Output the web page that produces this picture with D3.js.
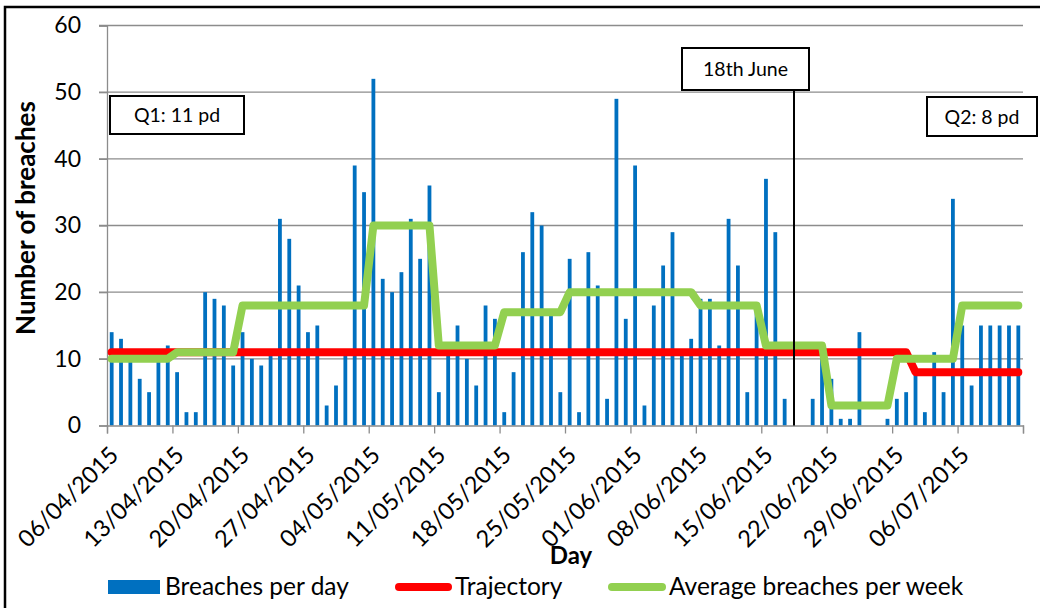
<!DOCTYPE html>
<html>
<head>
<meta charset="utf-8">
<script src="https://cdn.jsdelivr.net/npm/d3@7"></script>
<style>
  body { margin: 0; background: #fff; }
  svg text { font-family: "Lato", "Open Sans", sans-serif; fill: #000; }
</style>
</head>
<body>
<svg id="chart" width="1040" height="608"></svg>
<script>
// daily breaches from 06/04/2015
const firstDay = "06/04/2015";
const breaches = [
  14, 13, 10, 7, 5, 10, 12, 8, 2, 2, 20, 19, 18, 9, 14, 10,
  9, 11, 31, 28, 21, 14, 15, 3, 6, 11, 39, 35, 52, 22, 20, 23,
  31, 25, 36, 5, 11, 15, 10, 6, 18, 16, 2, 8, 26, 32, 30, 17, 5,
  25, 2, 26, 21, 4, 49, 16, 39, 3, 18, 24, 29, 11, 13, 19, 19,
  12, 31, 24, 5, 18, 37, 29, 4,
  0, 0, 4, 11, 7, 1, 1,
  14, 0, 0, 1, 4, 5, 8, 2, 11, 5, 34, 15, 6, 15, 15, 15, 15, 15
];
// one value per week (weeks start on Monday 06/04)
const weekAverage = [10, 11, 18, 18, 30, 12, 17, 20, 20, 18, 12, 3, 10, 18];
// trajectory per quarter
const quarterStart = ["01/04/2015", "01/07/2015"];
const trajectory = [11, 8];
const tickLabels = ["06/04/2015", "13/04/2015", "20/04/2015", "27/04/2015", "04/05/2015",
  "11/05/2015", "18/05/2015", "25/05/2015", "01/06/2015", "08/06/2015", "15/06/2015",
  "22/06/2015", "29/06/2015", "06/07/2015"];
const yTicks = [0, 10, 20, 30, 40, 50, 60];
const markerDay = "18/06/2015";

var parse = d3.timeParse("%d/%m/%Y");
var start = parse(firstDay);
var end = d3.timeDay.offset(start, breaches.length);
var days = d3.timeDay.range(start, end);
var qStarts = quarterStart.map(parse);

var rows = days.map((d, i) => {
  var q = d3.bisectRight(qStarts, d) - 1;
  return { day: d, breaches: breaches[i], week: weekAverage[Math.floor(i / 7)], traj: trajectory[q] };
});

var svg = d3.select("#chart");
var plotLeft = 107, plotRight = 1023, plotTop = 25.5, plotBottom = 425.5;

var x = d3.scaleTime().domain([start, end]).range([plotLeft, plotRight]);
var y = d3.scaleLinear().domain([0, 60]).range([plotBottom, plotTop]);
var mid = d => x(d3.timeHour.offset(d, 12));

// outer border
svg.append("rect")
  .attr("x", 5).attr("y", 7).attr("width", 1045).attr("height", 620)
  .attr("fill", "none").attr("stroke", "#000").attr("stroke-width", 2.5);

// grid
svg.append("g").selectAll("line")
  .data(yTicks.slice(1))
  .join("line")
  .attr("x1", plotLeft - 8).attr("x2", plotRight)
  .attr("y1", d => y(d)).attr("y2", d => y(d))
  .attr("stroke", "#8c8c8c").attr("stroke-width", 1.3);

// y axis
var yAxis = svg.append("g").attr("transform", `translate(${plotLeft},0)`)
  .call(d3.axisLeft(y).tickValues(yTicks).tickSize(8).tickPadding(18));
yAxis.select(".domain").attr("stroke", "#8c8c8c").attr("stroke-width", 1.3);
yAxis.selectAll(".tick line").attr("stroke", "#8c8c8c").attr("stroke-width", 1.3);
yAxis.selectAll(".tick text").style("font-size", "23px").style("font-family", "Lato");

// bars
svg.append("g").selectAll("rect")
  .data(rows)
  .join("rect")
  .attr("x", d => mid(d.day) - 1.9)
  .attr("width", 3.8)
  .attr("y", d => y(d.breaches))
  .attr("height", d => plotBottom - y(d.breaches))
  .attr("fill", "#0070c0");

// x axis
var tickDates = tickLabels.map(parse).concat([end]);
var xAxis = svg.append("g").attr("transform", `translate(0,${plotBottom})`)
  .call(d3.axisBottom(x).tickValues(tickDates).tickSize(8).tickFormat(""));
xAxis.select(".domain").attr("stroke", "#8c8c8c").attr("stroke-width", 1.3);
xAxis.selectAll(".tick line").attr("stroke", "#8c8c8c").attr("stroke-width", 1.3);

svg.append("g").selectAll("text")
  .data(tickLabels)
  .join("text")
  .attr("transform", d => `translate(${x(parse(d)) + 13},${plotBottom + 31}) rotate(-45)`)
  .attr("text-anchor", "end")
  .style("font-size", "23.5px")
  .text(d => d);

// lines
var trajLine = d3.line().x(d => mid(d.day)).y(d => y(d.traj));
var weekLine = d3.line().x(d => mid(d.day)).y(d => y(d.week));

svg.append("path").datum(rows)
  .attr("d", trajLine).attr("fill", "none")
  .attr("stroke", "#ff0000").attr("stroke-width", 8)
  .attr("stroke-linecap", "round").attr("stroke-linejoin", "round");

svg.append("path").datum(rows)
  .attr("d", weekLine).attr("fill", "none")
  .attr("stroke", "#92d050").attr("stroke-width", 8)
  .attr("stroke-linecap", "round").attr("stroke-linejoin", "round");

// 18th June marker
var mx = mid(parse(markerDay));
svg.append("line")
  .attr("x1", mx).attr("x2", mx).attr("y1", 90).attr("y2", plotBottom)
  .attr("stroke", "#000").attr("stroke-width", 2);

function note(x0, y0, w, h, label) {
  svg.append("rect").attr("x", x0).attr("y", y0).attr("width", w).attr("height", h)
    .attr("fill", "#fff").attr("stroke", "#000").attr("stroke-width", 2);
  svg.append("text").attr("x", x0 + w / 2).attr("y", y0 + h / 2 + 7)
    .attr("text-anchor", "middle").style("font-size", "19.5px").text(label);
}
note(110, 96, 134, 38, "Q1: 11 pd");
note(682, 48, 127, 42, "18th June");
note(927, 97, 110, 39, "Q2: 8 pd");

// axis titles
svg.append("text")
  .attr("transform", "translate(35,218) rotate(-90)")
  .attr("text-anchor", "middle")
  .style("font-size", "26px").style("font-weight", "bold")
  .text("Number of breaches");

svg.append("text")
  .attr("x", 571).attr("y", 564)
  .attr("text-anchor", "middle")
  .style("font-size", "24px").style("font-weight", "bold")
  .text("Day");

// legend
var lg = svg.append("g");
lg.append("rect").attr("x", 108).attr("y", 580).attr("width", 52).attr("height", 14).attr("fill", "#0070c0");
lg.append("text").attr("x", 165).attr("y", 595).style("font-size", "24.5px").text("Breaches per day");
lg.append("line").attr("x1", 399).attr("x2", 448).attr("y1", 587).attr("y2", 587)
  .attr("stroke", "#ff0000").attr("stroke-width", 8).attr("stroke-linecap", "round");
lg.append("text").attr("x", 455).attr("y", 595).style("font-size", "24.5px").text("Trajectory");
lg.append("line").attr("x1", 612).attr("x2", 662).attr("y1", 587).attr("y2", 587)
  .attr("stroke", "#92d050").attr("stroke-width", 8).attr("stroke-linecap", "round");
lg.append("text").attr("x", 669).attr("y", 595).style("font-size", "24.5px").text("Average breaches per week");
</script>
</body>
</html>
